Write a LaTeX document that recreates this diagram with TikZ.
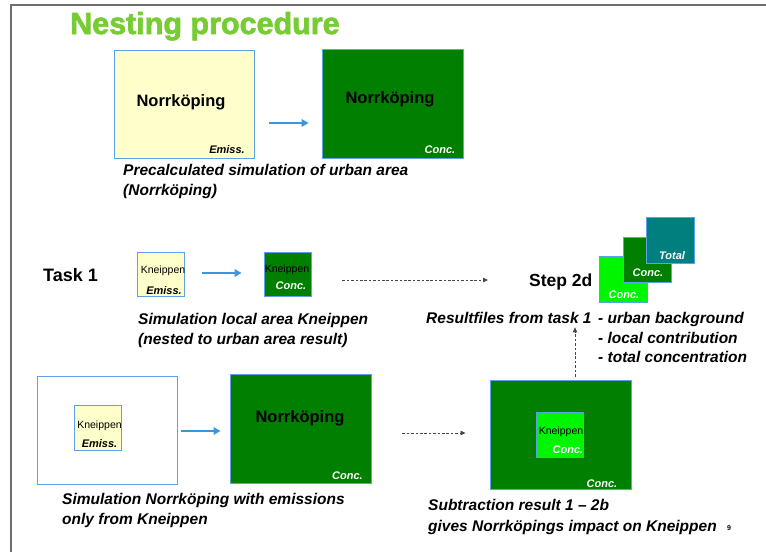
\documentclass[tikz,border=0pt]{standalone}
\usepackage{fontspec}
\setmainfont{Liberation Sans}
\newfontfamily\heavyfont{Liberation Sans}[BoldFeatures={FakeBold=2.2}]
\usetikzlibrary{arrows.meta}

\definecolor{titlegreen}{RGB}{119,204,51}
\definecolor{edgeblue}{RGB}{95,160,235}
\definecolor{arrowblue}{RGB}{60,150,220}
\definecolor{emissyellow}{RGB}{255,255,204}
\definecolor{concgreen}{RGB}{0,127,0}
\definecolor{localgreen}{RGB}{0,245,0}
\definecolor{totalteal}{RGB}{0,127,127}
\definecolor{framegray}{RGB}{110,110,110}
\definecolor{dashgray}{RGB}{70,70,70}

\begin{document}
\begin{tikzpicture}[x=1pt,y=-1pt,
  area/.style={draw=edgeblue, line width=0.9pt, inner sep=0pt},
  txt/.style={inner sep=0pt, anchor=base},
  caption/.style={inner sep=0pt, anchor=base west, font=\bfseries\itshape\fontsize{15.5}{19}\selectfont},
  bigname/.style={txt, font=\bfseries\fontsize{16.5}{20}\selectfont},
  smallname/.style={txt, font=\fontsize{10.5}{12}\selectfont},
  tag/.style={txt, font=\bfseries\itshape\fontsize{11}{13}\selectfont},
  heading/.style={inner sep=0pt, anchor=base west, font=\bfseries\fontsize{18}{21}\selectfont},
  flow/.style={arrowblue, line width=2.6pt, -{Triangle[length=7pt,width=7.5pt]}},
  link/.style={dashgray, line width=0.8pt, dash pattern=on 2.6pt off 1.8pt, -{Triangle[length=5pt,width=4.5pt]}}
]
\useasboundingbox (0,0) rectangle (766,552);

% page frame
\draw[framegray, line width=1.6pt] (11,552) -- (11,5) -- (766,5);

% title
\node[inner sep=0pt, anchor=base west, text=titlegreen,
      font=\heavyfont\bfseries\fontsize{30.5}{34}\selectfont] (title) at (70,34) {Nesting procedure};

% --- precalculated urban simulation ---
\node[area, fill=emissyellow, minimum width=140, minimum height=108] (urbEmis) at (184,104) {};
\node[area, fill=concgreen, minimum width=141, minimum height=109] (urbConc) at (392.5,103.5) {};
\node[bigname] (urbEmisName) at (181,106) {Norrköping};
\node[tag] (urbEmisTag) at (227,153) {Emiss.};
\node[bigname] (urbConcName) at (390,103) {Norrköping};
\node[tag, text=white] (urbConcTag) at (440,153) {Conc.};
\draw[flow, shorten <=15pt, shorten >=13pt]
  ([yshift=-19pt]urbEmis.east) -- ([yshift=-19pt]urbEmis.east -| urbConc.west);
\node[caption] (cap1a) at (123,175) {Precalculated simulation of urban area};
\node[caption] (cap1b) at (123,195) {(Norrköping)};

% --- task 1: local area ---
\node[heading] (task) at (43,281) {Task 1};
\node[area, fill=emissyellow, minimum width=47, minimum height=44] (kEmis) at (160.5,274) {};
\node[area, fill=concgreen, minimum width=47, minimum height=44] (kConc) at (287.5,274) {};
\node[smallname] (kEmisName) at (163,273) {Kneippen};
\node[tag] (kEmisTag) at (164,294) {Emiss.};
\node[smallname] (kConcName) at (287,272) {Kneippen};
\node[tag, text=white] (kConcTag) at (291,289) {Conc.};
\draw[flow, shorten <=18pt, shorten >=22pt]
  ([yshift=1pt]kEmis.east) -- ([yshift=1pt]kEmis.east -| kConc.west);
\node[caption] (cap2a) at (138,324) {Simulation local area Kneippen};
\node[caption] (cap2b) at (138,344) {(nested to urban area result)};

% --- step 2d: result files ---
\node[heading, font=\bfseries\fontsize{17.5}{21}\selectfont] (step) at (529,286) {Step 2d};
\node[area, fill=localgreen, minimum width=48, minimum height=46] (resLocal) at (623,279) {};
\node[area, fill=concgreen, minimum width=48, minimum height=45] (resUrban) at (647,259.5) {};
\node[area, fill=totalteal, minimum width=48, minimum height=46] (resTotal) at (670,240) {};
\node[tag, text=white] (resLocalTag) at (624,298) {Conc.};
\node[tag, text=white] (resUrbanTag) at (648,276) {Conc.};
\node[tag, text=white] (resTotalTag) at (672,259) {Total};
\draw[link, shorten <=31pt, shorten >=41pt]
  ([yshift=-6pt]kConc.east) -- ([yshift=-6pt]kConc.east -| step.west);
\node[caption] (res) at (426,323) {Resultfiles from task 1};
\node[caption] (resA) at (598,323) {- urban background};
\node[caption] (resB) at (598,343) {- local contribution};
\node[caption] (resC) at (598,362) {- total concentration};

% --- emissions only from Kneippen ---
\node[area, fill=white, minimum width=140, minimum height=108] (nkEmis) at (107,430) {};
\node[area, fill=emissyellow, minimum width=47, minimum height=45] (nkEmisLocal) at (97.5,427.5) {};
\node[smallname] (nkEmisName) at (99.5,428) {Kneippen};
\node[tag] (nkEmisTag) at (99.5,447) {Emiss.};
\node[area, fill=concgreen, minimum width=141, minimum height=109] (nkConc) at (300.5,428.5) {};
\node[bigname] (nkConcName) at (300,422) {Norrköping};
\node[tag, text=white] (nkConcTag) at (347.5,479) {Conc.};
\draw[flow, shorten <=4pt, shorten >=9pt]
  ([yshift=-1pt]nkEmis.east) -- ([yshift=-1pt]nkEmis.east -| nkConc.west);
\node[caption] (cap3a) at (62,504) {Simulation Norrköping with emissions};
\node[caption] (cap3b) at (62,524) {only from Kneippen};

% --- subtraction result ---
\node[area, fill=concgreen, minimum width=141, minimum height=109] (diff) at (560.5,434.5) {};
\node[area, fill=localgreen, minimum width=47, minimum height=45] (diffLocal) at (559.5,434.5) {};
\node[smallname] (diffName) at (561,434) {Kneippen};
\node[tag, text=white] (diffLocalTag) at (568,453) {Conc.};
\node[tag, text=white] (diffTag) at (602,487) {Conc.};
\draw[link, shorten <=31pt, shorten >=24pt]
  ([yshift=-4.5pt]nkConc.east) -- ([yshift=-4.5pt]nkConc.east -| diff.west);
\draw[link, shorten <=3pt, shorten >=4pt]
  ([xshift=14.5pt]diff.north) -- ([xshift=14.5pt]diff.north |- res.south);
\node[caption] (cap4a) at (428,510) {Subtraction result 1 – 2b};
\node[caption] (cap4b) at (428,531) {gives Norrköpings impact on Kneippen};
\node[inner sep=0pt, anchor=base, font=\bfseries\fontsize{7}{8}\selectfont] (page) at (729,530) {9};
\end{tikzpicture}
\end{document}
